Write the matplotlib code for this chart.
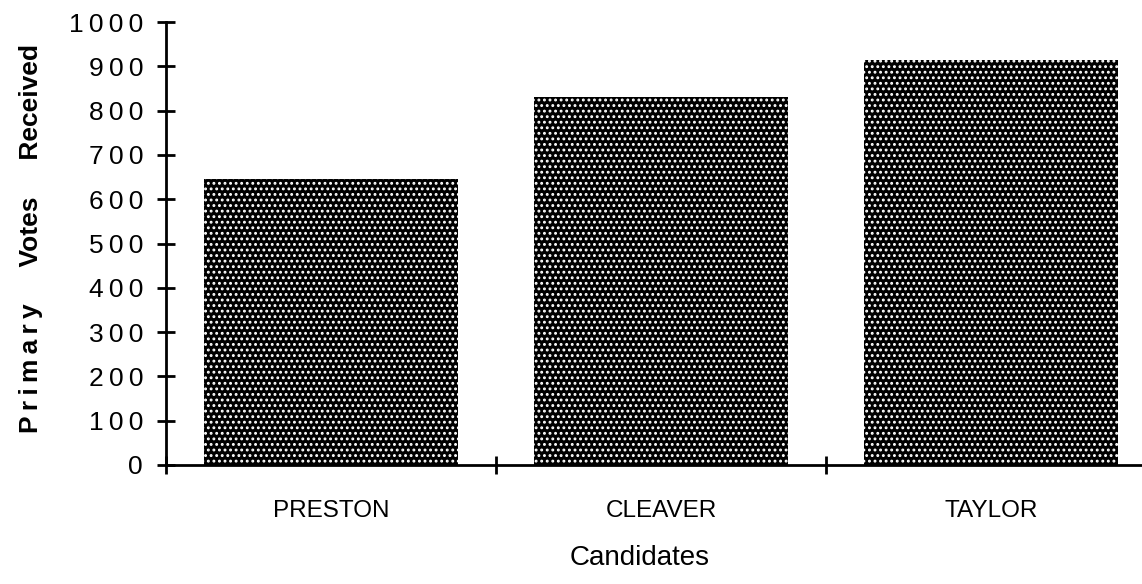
import matplotlib
matplotlib.use("Agg")
import matplotlib.pyplot as plt
from matplotlib import font_manager as fm
import numpy as np

# ---- data ----
candidates = ["PRESTON", "CLEAVER", "TAYLOR"]
votes = [645, 830, 915]
yticks = [0, 100, 200, 300, 400, 500, 600, 700, 800, 900, 1000]
ytick_labels = ["\u2009".join(str(v)) for v in yticks]
xlabel = "Candidates"
ylabel = "\u2009".join("Primary") + "     Votes     Received"

names = {f.name for f in fm.fontManager.ttflist}
narrow_family = None
for cand in ["Liberation Sans Narrow", "DejaVu Sans Condensed"]:
    if cand in names:
        narrow_family = cand
        break

plt.rcParams["hatch.color"] = "white"
plt.rcParams["hatch.linewidth"] = 1.3

fig = plt.figure(figsize=(11.42, 5.84), dpi=100)
ax = fig.add_axes([166 / 1142, 119 / 584, 976 / 1142, 443 / 584])

x = np.arange(len(candidates))
ax.bar(x, votes, width=0.77, color="black", hatch="...", linewidth=0)

ax.set_xlim(-0.5, -0.5 + 976 / 330)
ax.set_ylim(0, 1000)

for s in ["top", "right"]:
    ax.spines[s].set_visible(False)
for s in ["left", "bottom"]:
    ax.spines[s].set_linewidth(2)
ax.spines["bottom"].set_bounds(-0.5, 3)

ax.set_yticks(yticks)
ax.set_yticklabels(ytick_labels, family=["Liberation Sans", "DejaVu Sans"], fontsize=19)
ax.tick_params(axis="y", direction="inout", length=13, width=2, pad=10)

ax.set_xticks([-0.5, 0.5, 1.5])
ax.set_xticklabels([])
ax.tick_params(axis="x", which="major", direction="inout", length=13, width=2)
ax.set_xticks(x, minor=True)
ax.set_xticklabels(candidates, minor=True, family=["Liberation Sans", "DejaVu Sans"], fontsize=17.5)
ax.tick_params(axis="x", which="minor", length=0, pad=25)

if narrow_family is not None:
    ax.set_xlabel(xlabel, family=[narrow_family, "DejaVu Sans"], fontsize=25)
else:
    ax.set_xlabel(xlabel, family=["Liberation Sans", "DejaVu Sans"], fontsize=20)
ax.xaxis.set_label_coords((640 - 166) / 976, -0.18)

ax.set_ylabel(ylabel, family=["Liberation Sans", "DejaVu Sans"], fontsize=19, fontweight="bold")
ax.yaxis.set_label_coords(-0.126, 0.512)

fig.savefig("out.png", dpi=100)
